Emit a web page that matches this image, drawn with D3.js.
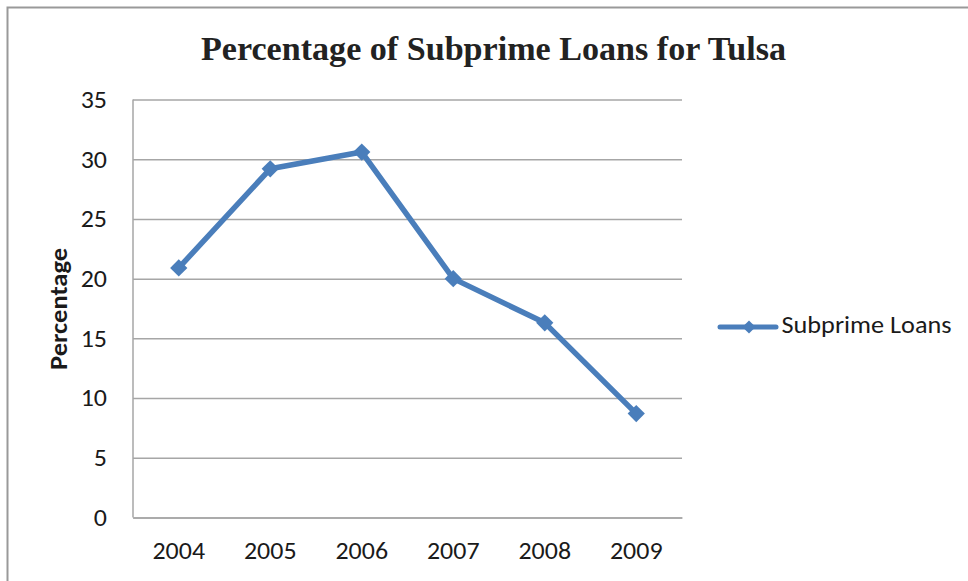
<!DOCTYPE html>
<html>
<head>
<meta charset="utf-8">
<script src="https://cdn.jsdelivr.net/npm/d3@7"></script>
<style>
  html, body { margin: 0; padding: 0; background: #fff; }
  svg { display: block; }
</style>
</head>
<body>
<svg id="chart" width="968" height="581"></svg>
<script>
// Share of subprime loans in Tulsa, by year
const years = ["2004", "2005", "2006", "2007", "2008", "2009"];
const subprimeLoans = [20.9, 29.2, 30.6, 20.0, 16.3, 8.7];
const yTicks = [0, 5, 10, 15, 20, 25, 30, 35];
const seriesName = "Subprime Loans";

const W = 968, H = 581;
const plot = { left: 133, right: 682, top: 99.5, bottom: 517.5 };
const lineColor = "#4a7ebb";
const gridColor = "#a6a6a6";
const labelFont = "Carlito, Calibri, 'Open Sans', sans-serif";
const widen = 1.08; // label glyphs run a little wider than Carlito

const svg = d3.select("#chart");

// stretch a text element horizontally to a wider advance
function stretch(sel, factor) {
  sel.each(function () {
    const len = this.getComputedTextLength();
    d3.select(this).attr("textLength", len * factor).attr("lengthAdjust", "spacingAndGlyphs");
  });
}

// chart frame
svg.append("rect")
  .attr("x", 7.5).attr("y", 7.5)
  .attr("width", W + 20).attr("height", H + 20)
  .attr("fill", "#fff")
  .attr("stroke", "#999")
  .attr("stroke-width", 2);

const x = d3.scaleBand().domain(years).range([plot.left, plot.right]);
const y = d3.scaleLinear().domain([0, 35]).range([plot.bottom, plot.top]);

// horizontal gridlines via left axis with full-width ticks
const yAxis = svg.append("g")
  .attr("transform", `translate(${plot.left},0)`)
  .call(d3.axisLeft(y).tickValues(yTicks).tickSize(-(plot.right - plot.left)).tickPadding(26).tickFormat(d3.format("d")));
yAxis.select(".domain").remove();
yAxis.selectAll(".tick line").attr("stroke", gridColor).attr("stroke-width", 1.5);
yAxis.selectAll(".tick text")
  .attr("fill", "#1a1a1a")
  .attr("font-family", labelFont)
  .attr("font-size", 24)
  .attr("dy", "0.33em")
  .call(stretch, widen);

// axis lines
svg.append("line")
  .attr("x1", plot.left).attr("x2", plot.left)
  .attr("y1", plot.top).attr("y2", plot.bottom)
  .attr("stroke", gridColor).attr("stroke-width", 1.5);
const xAxis = svg.append("g")
  .attr("transform", `translate(0,${plot.bottom})`)
  .call(d3.axisBottom(x).tickSize(0).tickPadding(24));
xAxis.select(".domain").attr("stroke", gridColor).attr("stroke-width", 1.5);
xAxis.selectAll(".tick text")
  .attr("fill", "#1a1a1a")
  .attr("font-family", labelFont)
  .attr("font-size", 24)
  .call(stretch, widen);

// data line
const cx = d => x(d) + x.bandwidth() / 2;
const pts = years.map((yr, i) => [cx(yr), y(subprimeLoans[i])]);
svg.append("path")
  .attr("d", d3.line()(pts))
  .attr("fill", "none")
  .attr("stroke", lineColor)
  .attr("stroke-width", 5.5)
  .attr("stroke-linejoin", "round");

const diamond = d3.symbol().type(d3.symbolDiamond2).size(190);
svg.append("g").selectAll("path")
  .data(pts)
  .join("path")
  .attr("transform", d => `translate(${d[0]},${d[1]})`)
  .attr("d", diamond)
  .attr("fill", lineColor);

// title
svg.append("text")
  .attr("x", 493.5).attr("y", 59.5)
  .attr("text-anchor", "middle")
  .attr("font-family", "'Palatino Linotype', 'Book Antiqua', 'Liberation Serif', serif")
  .attr("font-weight", "bold")
  .attr("font-size", 34)
  .attr("fill", "#222")
  .attr("textLength", 585)
  .attr("lengthAdjust", "spacingAndGlyphs")
  .text("Percentage of Subprime Loans for Tulsa");

// y axis title
svg.append("text")
  .attr("transform", `translate(67,309) rotate(-90)`)
  .attr("text-anchor", "middle")
  .attr("font-family", labelFont)
  .attr("font-weight", "bold")
  .attr("font-size", 24)
  .attr("fill", "#1a1a1a")
  .attr("textLength", 122)
  .attr("lengthAdjust", "spacingAndGlyphs")
  .text("Percentage");

// legend
const leg = svg.append("g").attr("transform", "translate(720,327)");
leg.append("line")
  .attr("x1", 0).attr("x2", 56)
  .attr("stroke", lineColor).attr("stroke-width", 5).attr("stroke-linecap", "round");
leg.append("path")
  .attr("transform", "translate(29,0)")
  .attr("d", d3.symbol().type(d3.symbolDiamond2).size(110))
  .attr("fill", lineColor);
leg.append("text")
  .attr("x", 61.5).attr("y", 6.3)
  .attr("font-family", labelFont)
  .attr("font-size", 24)
  .attr("fill", "#1a1a1a")
  .attr("textLength", 170)
  .attr("lengthAdjust", "spacingAndGlyphs")
  .text(seriesName);
</script>
</body>
</html>
